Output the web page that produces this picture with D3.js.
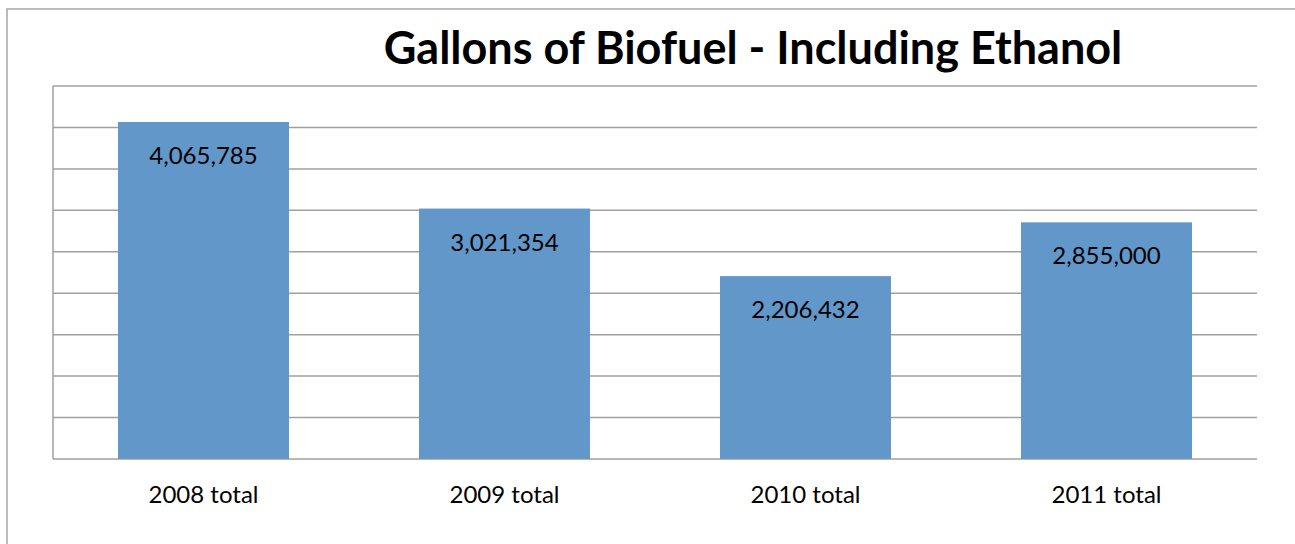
<!DOCTYPE html>
<html>
<head>
<meta charset="utf-8">
<script src="https://cdn.jsdelivr.net/npm/d3@7"></script>
<style>
    body { margin: 0; background: #fff; }
    svg { display: block; font-family: Lato, "Open Sans", sans-serif; }
</style>
</head>
<body>
<div id="chart"></div>
<script>
var categories = ["2008 total", "2009 total", "2010 total", "2011 total"];
var gallons = [4065785, 3021354, 2206432, 2855000];
var yTicks = [0, 500000, 1000000, 1500000, 2000000, 2500000, 3000000, 3500000, 4000000, 4500000];
var chartTitle = "Gallons of Biofuel - Including Ethanol";

var width = 1295, height = 544;
var margin = { top: 86, right: 38, bottom: 85, left: 53 };

var svg = d3.select("#chart")
    .append("svg")
    .attr("width", width)
    .attr("height", height);

// outer chart border (runs off the right and bottom edges)
svg.append("path")
    .attr("d", "M7," + (height + 5) + " V9 H" + (width + 5))
    .attr("fill", "none")
    .attr("stroke", "#a6a6a6")
    .attr("stroke-width", 1.5);

var x = d3.scaleBand()
    .domain(categories)
    .range([margin.left, width - margin.right])
    .paddingInner(0.432)
    .paddingOuter(0.216);

var y = d3.scaleLinear()
    .domain([0, 4500000])
    .range([height - margin.bottom, margin.top]);

// gridlines
svg.append("g")
    .selectAll("line")
    .data(yTicks)
    .enter().append("line")
    .attr("x1", margin.left)
    .attr("x2", width - margin.right)
    .attr("y1", function (d) { return y(d); })
    .attr("y2", function (d) { return y(d); })
    .attr("stroke", "#a0a0a0")
    .attr("stroke-width", 1.5);

// vertical axis line
svg.append("line")
    .attr("x1", margin.left)
    .attr("x2", margin.left)
    .attr("y1", y(4500000))
    .attr("y2", y(0))
    .attr("stroke", "#a0a0a0")
    .attr("stroke-width", 1.5);

var data = categories.map(function (c, i) { return { cat: c, value: gallons[i] }; });

svg.append("g")
    .selectAll("rect")
    .data(data)
    .enter().append("rect")
    .attr("x", function (d) { return x(d.cat); })
    .attr("y", function (d) { return y(d.value); })
    .attr("width", x.bandwidth())
    .attr("height", function (d) { return y(0) - y(d.value); })
    .attr("fill", "#6297ca");

// value labels inside the top of each bar
svg.append("g")
    .selectAll("text")
    .data(data)
    .enter().append("text")
    .attr("x", function (d) { return x(d.cat) + x.bandwidth() / 2; })
    .attr("y", function (d) { return y(d.value) + 42; })
    .attr("text-anchor", "middle")
    .attr("font-size", 24)
    .attr("fill", "#000")
    .text(function (d) { return d3.format(",")(d.value); });

// category axis
var xAxis = svg.append("g")
    .attr("transform", "translate(0," + y(0) + ")")
    .call(d3.axisBottom(x).tickSize(0).tickPadding(0));
xAxis.select(".domain").remove();
xAxis.selectAll("text")
    .attr("y", 44)
    .attr("dy", 0)
    .attr("font-family", "Lato, 'Open Sans', sans-serif")
    .attr("font-size", 24)
    .attr("fill", "#000");

svg.append("text")
    .attr("x", 753)
    .attr("y", 64)
    .attr("text-anchor", "middle")
    .attr("font-size", 45)
    .attr("font-weight", "bold")
    .attr("fill", "#000")
    .text(chartTitle);
</script>
</body>
</html>
